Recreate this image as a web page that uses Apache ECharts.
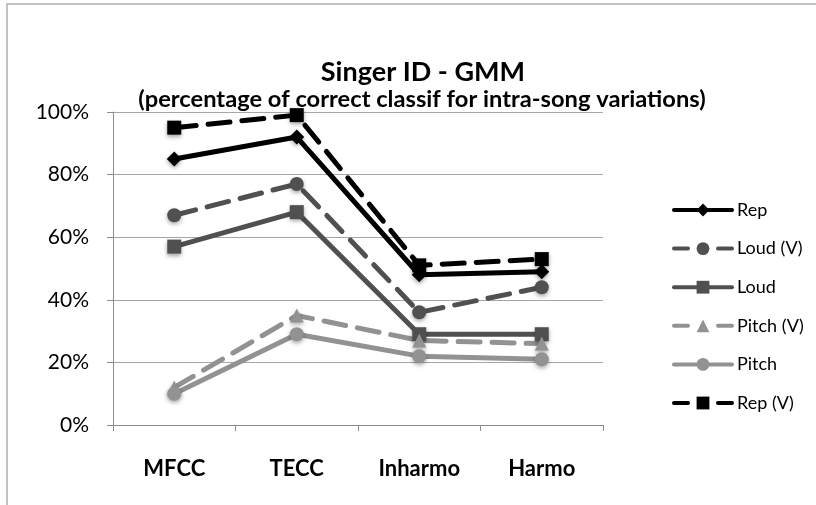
<!DOCTYPE html>
<html>
<head>
<meta charset="utf-8">
<script src="https://cdn.jsdelivr.net/npm/echarts@6/dist/echarts.min.js"></script>
<style>
  html, body { margin: 0; padding: 0; background: #fff; }
  #chart { width: 816px; height: 505px; }
</style>
</head>
<body>
<div id="chart"></div>
<script>
// categories on the x axis
const categories = ['MFCC', 'TECC', 'Inharmo', 'Harmo'];

// percent of correct classification
const rep = [85, 92, 48, 49];
const loudV = [67, 77, 36, 44];
const loud = [57, 68, 29, 29];
const pitchV = [12, 35, 27, 26];
const pitch = [10, 29, 22, 21];
const repV = [95, 99, 51, 53];

const BLACK = '#000000';
const DARK = '#505050';
const LIGHT = '#929292';
const DASH = [22, 12];
const LEGEND_DASH = [14, 30];

function makeSeries(name, data, color, symbol, dashed) {
  return {
    name: name,
    type: 'line',
    data: data,
    symbol: symbol,
    symbolSize: symbol === 'diamond' ? 15 : 14,
    itemStyle: {
      color: color,
      shadowColor: 'rgba(0,0,0,0.35)',
      shadowBlur: 4,
      shadowOffsetY: 2
    },
    lineStyle: {
      color: color,
      width: 5,
      type: dashed ? DASH : 'solid',
      cap: 'round'
    },
    emphasis: { disabled: true },
    animation: false
  };
}

function legendItem(name, dashed) {
  return dashed ? { name: name, lineStyle: { type: LEGEND_DASH } } : { name: name };
}

const chart = echarts.init(document.getElementById('chart'));
const option = {
  backgroundColor: '#fff',
  title: [
    {
      text: 'Singer ID - GMM',
      left: 418,
      top: 54,
      textAlign: 'center',
      textStyle: { fontFamily: 'Lato', fontSize: 27, fontWeight: 'bold', color: '#000' }
    },
    {
      text: '(percentage of correct classif for intra-song variations)',
      left: 417,
      top: 82,
      textAlign: 'center',
      textStyle: { fontFamily: 'Lato', fontSize: 23.7, fontWeight: 'bold', color: '#000' }
    }
  ],
  graphic: [
    {
      type: 'rect',
      shape: { x: 7, y: 4, width: 830, height: 620 },
      style: { fill: 'none', stroke: '#b0b0b0', lineWidth: 1.5 },
      silent: true
    }
  ],
  legend: {
    orient: 'vertical',
    left: 667,
    top: 196,
    itemWidth: 58,
    itemHeight: 16,
    itemGap: 20.6,
    lineStyle: { width: 4 },
    textStyle: { fontFamily: 'Lato', fontSize: 18, color: '#000' },
    data: [
      legendItem('Rep', false),
      legendItem('Loud (V)', true),
      legendItem('Loud', false),
      legendItem('Pitch (V)', true),
      legendItem('Pitch', false),
      legendItem('Rep (V)', true)
    ]
  },
  grid: {
    left: 113,
    right: 213,
    top: 112,
    bottom: 80
  },
  xAxis: {
    type: 'category',
    data: categories,
    boundaryGap: true,
    axisLine: { lineStyle: { color: '#8c8c8c', width: 1 } },
    axisTick: { show: true, length: 6, lineStyle: { color: '#8c8c8c' } },
    axisLabel: {
      fontFamily: 'Lato',
      fontSize: 22,
      fontWeight: 'bold',
      color: '#000',
      margin: 33
    }
  },
  yAxis: {
    type: 'value',
    min: 0,
    max: 100,
    interval: 20,
    axisLine: { show: true, lineStyle: { color: '#8c8c8c', width: 1 } },
    axisTick: { show: true, length: 6, lineStyle: { color: '#8c8c8c' } },
    splitLine: { lineStyle: { color: '#a6a6a6', width: 1 } },
    axisLabel: {
      fontFamily: 'Lato',
      fontSize: 21,
      color: '#000',
      margin: 24,
      formatter: '{value}%'
    }
  },
  series: [
    makeSeries('Rep', rep, BLACK, 'diamond', false),
    makeSeries('Loud (V)', loudV, DARK, 'circle', true),
    makeSeries('Loud', loud, DARK, 'rect', false),
    makeSeries('Pitch (V)', pitchV, LIGHT, 'triangle', true),
    makeSeries('Pitch', pitch, LIGHT, 'circle', false),
    makeSeries('Rep (V)', repV, BLACK, 'rect', true)
  ]
};
chart.setOption(option);
</script>
</body>
</html>
